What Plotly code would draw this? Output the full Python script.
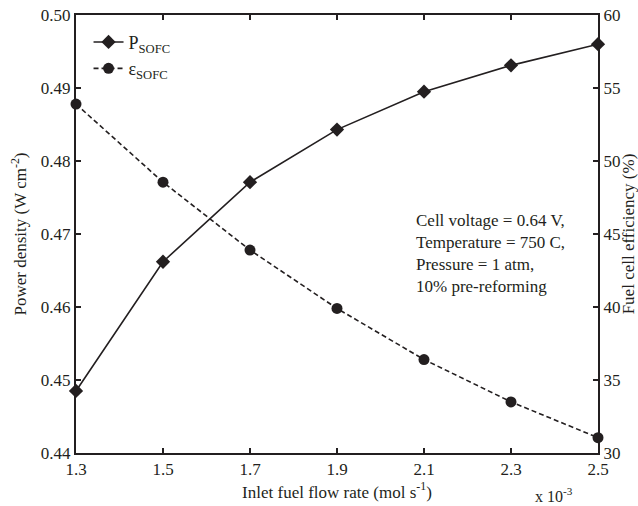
import plotly.graph_objects as go

# Inlet fuel flow rate, in units of 1e-3 mol/s
flow_rate = [1.3, 1.5, 1.7, 1.9, 2.1, 2.3, 2.5]
# Power density of the SOFC (W/cm^2)
power_density = [0.4485, 0.4662, 0.4771, 0.4843, 0.4895, 0.4931, 0.4960]
# Fuel cell efficiency (%)
efficiency = [53.9, 48.55, 43.9, 39.9, 36.4, 33.5, 31.05]

x_ticks = [1.3, 1.5, 1.7, 1.9, 2.1, 2.3, 2.5]
y1_ticks = [0.44, 0.45, 0.46, 0.47, 0.48, 0.49, 0.50]
y2_ticks = [30, 35, 40, 45, 50, 55, 60]

FONT = "Liberation Serif"
INK = "#231f20"

fig = go.Figure()
fig.add_trace(go.Scatter(
    x=flow_rate, y=power_density, name="P<sub>SOFC</sub>",
    mode="lines+markers",
    line=dict(color=INK, width=1.6),
    marker=dict(symbol="diamond", size=11, color=INK),
    cliponaxis=False,
))
fig.add_trace(go.Scatter(
    x=flow_rate, y=efficiency, name="ε<sub>SOFC</sub>", yaxis="y2",
    mode="lines+markers",
    line=dict(color=INK, width=1.6, dash="5px,3px"),
    marker=dict(symbol="circle", size=11, color=INK),
    cliponaxis=False,
))

axis_common = dict(
    showgrid=False, zeroline=False, showline=True, linecolor=INK, linewidth=2,
    ticks="inside", ticklen=5, tickwidth=1.5, tickcolor=INK,
    tickfont=dict(family=FONT, size=17, color=INK),
    automargin=False,
)
title_font = dict(family=FONT, size=17, color=INK)

fig.update_layout(
    width=638, height=506,
    margin=dict(l=76, r=40, t=15, b=53),
    paper_bgcolor="white", plot_bgcolor="white",
    font=dict(family=FONT, size=17, color=INK),
    xaxis=dict(
        range=[1.3, 2.5], tickvals=x_ticks, ticktext=[f"{v:.1f}" for v in x_ticks],
        mirror="ticks",
        title=dict(text="Inlet fuel flow rate (mol s<sup>-1</sup>)",
                   font=title_font, standoff=4),
        **axis_common,
    ),
    yaxis=dict(
        range=[0.44, 0.50], tickvals=y1_ticks, ticktext=[f"{v:.2f}" for v in y1_ticks],
        title=dict(text="Power density (W cm<sup>-2</sup>)",
                   font=title_font, standoff=10),
        **axis_common,
    ),
    yaxis2=dict(
        range=[30, 60], tickvals=y2_ticks, overlaying="y", side="right",
        title=dict(text="Fuel cell efficiency (%)",
                   font=title_font, standoff=10),
        **axis_common,
    ),
    legend=dict(
        x=0.024, y=0.98, xanchor="left", yanchor="top",
        bgcolor="rgba(0,0,0,0)", borderwidth=0,
        font=dict(family=FONT, size=18, color=INK),
        tracegroupgap=0,
    ),
    annotations=[
        dict(
            text="Cell voltage = 0.64 V,<br>Temperature = 750 C,<br>Pressure = 1 atm,<br>10% pre-reforming",
            xref="paper", yref="paper", x=0.647, y=0.558, xanchor="left", yanchor="top",
            align="left", showarrow=False,
            font=dict(family=FONT, size=17, color=INK),
        ),
        dict(
            text="x 10<sup>-3</sup>",
            xref="paper", yref="paper", x=0.915, y=-0.068, xanchor="center", yanchor="top",
            showarrow=False, font=dict(family=FONT, size=16, color=INK),
        ),
    ],
)

fig.write_html("out.html")
